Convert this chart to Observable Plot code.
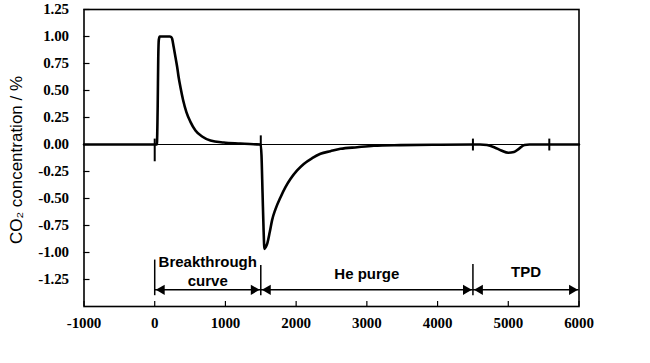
<!DOCTYPE html>
<html>
<head>
<meta charset="utf-8">
<script src="https://cdn.jsdelivr.net/npm/d3@7"></script>
<script src="https://cdn.jsdelivr.net/npm/@observablehq/plot@0.6"></script>
<style>
  body { margin: 0; background: #fff; }
  svg text { letter-spacing: -0.1px; }
  g[aria-label="text"] text { letter-spacing: 0; }
</style>
</head>
<body>
<div id="chart"></div>
<script>
// Time (s) and CO2 concentration (%)
const times = [-1000, 0, 30, 42, 50, 58, 71, 120, 180, 212, 232, 246, 269, 293, 317, 339, 364, 402, 448, 505, 576, 670, 788, 976, 1212, 1400, 1500, 1510, 1525, 1540, 1552, 1570, 1590, 1627, 1660, 1707, 1778, 1849, 1919, 2014, 2108, 2226, 2344, 2485, 2627, 2863, 3098, 3475, 4000, 4500, 4600, 4700, 4800, 4900, 5000, 5080, 5150, 5230, 5300, 6000];
const co2 = [0, 0, 0, 0.35, 0.8, 0.97, 1.0, 1.0, 1.0, 1.0, 0.995, 0.98, 0.90, 0.81, 0.72, 0.62, 0.53, 0.41, 0.30, 0.21, 0.13, 0.074, 0.037, 0.018, 0.009, 0.002, 0, -0.1, -0.45, -0.8, -0.966, -0.95, -0.92, -0.81, -0.70, -0.60, -0.49, -0.395, -0.32, -0.24, -0.18, -0.127, -0.086, -0.062, -0.04, -0.025, -0.012, -0.006, -0.002, 0, 0, -0.005, -0.025, -0.055, -0.077, -0.07, -0.04, -0.005, 0, 0];

// small vertical event markers on the trace
const markerX = [0, 1500, 4500, 5580];
const markerTop = [0.05, 0.08, 0.05, 0.05];
const markerBottom = [-0.16, -0.02, -0.06, -0.06];

// stage annotations
const stageStart = [0, 1500, 4500];
const stageEnd = [1500, 4500, 6000];
const boundX = [0, 1500, 4500];
const boundTop = [-1.07, -1.12, -1.11];
const boundBottom = [-1.40, -1.40, -1.40];
const arrowY = -1.345;
const labelText = ["Breakthrough", "curve", "He purge", "TPD"];
const labelX = [750, 750, 3000, 5250];
const labelY = [-1.093, -1.269, -1.204, -1.185];

const xTicks = [-1000, 0, 1000, 2000, 3000, 4000, 5000, 6000];
const yTicks = [-1.25, -1.0, -0.75, -0.5, -0.25, 0, 0.25, 0.5, 0.75, 1.0, 1.25];
const yTitle = "CO\u2082 concentration / %";

const trace = times.map((t, i) => ({t, c: co2[i]}));
const markers = markerX.map((x, i) => ({x, y1: markerTop[i], y2: markerBottom[i]}));
const stages = stageStart.map((s, i) => ({x1: s, x2: stageEnd[i], y: arrowY}));
const bounds = boundX.map((x, i) => ({x, y1: boundTop[i], y2: boundBottom[i]}));
const labels = labelText.map((text, i) => ({text, x: labelX[i], y: labelY[i]}));

const W = 650, H = 363;
const mL = 83.5, mR = 71.5, mT = 9, mB = 57;
const fw = W - mL - mR, fh = H - mT - mB;

const chart = Plot.plot({
  width: W,
  height: H,
  marginLeft: mL,
  marginRight: mR,
  marginTop: mT,
  marginBottom: mB,
  style: {background: "white", fontFamily: "Liberation Serif", fontSize: "15px", fontWeight: "bold", color: "black"},
  x: {domain: [-1000, 6000], ticks: xTicks, tickSize: 0, tickPadding: 11, tickFormat: d => String(d), label: null},
  y: {domain: [-1.5, 1.25], ticks: yTicks, tickSize: 0, tickPadding: 15, tickFormat: d => d.toFixed(2), label: null},
  marks: [
    Plot.ruleY([0], {stroke: "black", strokeWidth: 1}),
    Plot.tickX(xTicks, {x: d => d, stroke: "black", strokeWidth: 1.2, insetTop: fh - 5}),
    Plot.tickY(yTicks, {y: d => d, stroke: "black", strokeWidth: 1.2, insetRight: fw - 6}),
    Plot.line(trace, {x: "t", y: "c", stroke: "black", strokeWidth: 2.6, curve: "monotone-x"}),
    Plot.ruleX(markers, {x: "x", y1: "y1", y2: "y2", stroke: "black", strokeWidth: 2}),
    Plot.ruleX(bounds, {x: "x", y1: "y1", y2: "y2", stroke: "black", strokeWidth: 1.5}),
    Plot.ruleY(stages, {y: "y", x1: "x1", x2: "x2", stroke: "black", strokeWidth: 1.5}),
    Plot.dot(stages, {x: "x1", y: "y", symbol: "triangle", r: 3.8, fill: "black", stroke: null, rotate: -90, dx: 7}),
    Plot.dot(stages, {x: "x2", y: "y", symbol: "triangle", r: 3.8, fill: "black", stroke: null, rotate: 90, dx: -7}),
    Plot.text(labels, {x: "x", y: "y", text: "text", fontFamily: "Liberation Sans", fontSize: 15, fontWeight: "bold", fill: "black"}),
    Plot.text([yTitle], {frameAnchor: "left", textAnchor: "middle", dx: -67, dy: 2, rotate: -90, text: d => d, fontFamily: "Liberation Sans", fontSize: 17, fontWeight: "normal", fill: "black"}),
    Plot.frame({stroke: "black", strokeWidth: 1.6})
  ]
});
document.getElementById("chart").appendChild(chart);
</script>
</body>
</html>
